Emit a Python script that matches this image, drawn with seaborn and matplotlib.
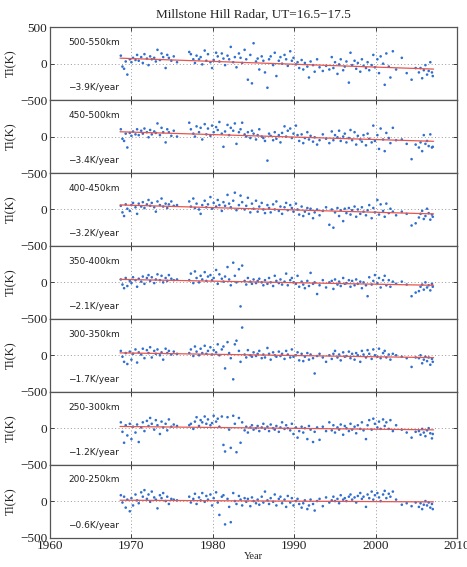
import numpy as np
import pandas as pd
import matplotlib.pyplot as plt
import seaborn as sns

# observation times (decimal year), shared by all altitude bins
years = [
    1968.7, 1968.9, 1969.1, 1969.3, 1969.5, 1969.8, 1970.0, 1970.2, 1970.5, 1970.7,
    1970.9, 1971.2, 1971.4, 1971.6, 1971.9, 1972.1, 1972.3, 1972.5, 1972.8, 1973.0,
    1973.2, 1973.5, 1973.7, 1973.9, 1974.2, 1974.4, 1974.6, 1974.9, 1975.2, 1975.6,
    1977.1, 1977.3, 1977.6, 1977.8, 1978.0, 1978.3, 1978.5, 1978.7, 1979.0, 1979.2,
    1979.4, 1979.7, 1979.9, 1980.1, 1980.4, 1980.6, 1980.8, 1981.1, 1981.3, 1981.5,
    1981.8, 1982.0, 1982.2, 1982.5, 1982.7, 1982.9, 1983.2, 1983.4, 1983.6, 1983.9,
    1984.1, 1984.3, 1984.6, 1984.8, 1985.0, 1985.3, 1985.5, 1985.7, 1986.0, 1986.2,
    1986.4, 1986.7, 1986.9, 1987.1, 1987.4, 1987.6, 1987.8, 1988.1, 1988.3, 1988.5,
    1988.8, 1989.0, 1989.2, 1989.5, 1989.7, 1989.9, 1990.2, 1990.4, 1990.6, 1990.9,
    1991.1, 1991.3, 1991.6, 1991.8, 1992.0, 1992.3, 1992.5, 1992.8, 1993.1, 1993.5,
    1993.9, 1994.3, 1994.6, 1994.8, 1995.0, 1995.3, 1995.5, 1995.7, 1996.0, 1996.2,
    1996.4, 1996.7, 1996.9, 1997.1, 1997.4, 1997.6, 1997.8, 1998.1, 1998.3, 1998.5,
    1998.8, 1999.0, 1999.2, 1999.5, 1999.7, 1999.9, 2000.2, 2000.4, 2000.6, 2000.9,
    2001.1, 2001.3, 2001.6, 2001.8, 2002.1, 2002.5,
    2003.2, 2003.8, 2004.4, 2004.9,
    2005.3, 2005.5, 2005.7, 2005.9, 2006.1, 2006.3, 2006.5, 2006.7, 2006.9, 2007.0,
]

# ion temperature anomalies (K) per altitude bin
ti_500_550 = [
    110, -40, -70, 30, -150, 60, 20, 80, 50, 120, 40, 90, 10, 130, 70, -20, 100, 60, 80, 30,
    190, 50, 140, 90, -60, 120, 80, 40, 100, 20,
    160, 130, 60, 10, 110, 60, 90, -10, 180, 40,
    130, 20, -60, 50, 150, 100, 30, 140, 70, -20,
    110, 60, 230, 20, 90, -50, 140, 80, 10, 190,
    60, -220, 120, -270, 280, 30, 70, -80, 100, 40,
    -120, -330, 60, 100, -20, 150, -170, 40, 90, 0,
    120, 60, -30, 170, 40, 80, -10, 20, -60, 50,
    -80, 10, -40, -190, 30, -20, -110, 60, -50, -100,
    -30, -80, 90, -60, 20, -140, -10, 60, -90, -40,
    30, -260, 150, -20, 40, -70, 10, -110, 60, -30,
    -60, 20, -90, -20, 120, -50, 60, -130, 100, 0,
    -290, 140, -40, -190, 170, -80,
    80, -130, -220, -60,
    -120, -60, -200, -90, -20, -150, -100, 20, -120, -170,
]
ti_450_500 = [
    100, -30, -60, 40, -150, 50, 10, 70, 30, 100, 20, 80, 40, 110, 60, -10, 90, 30, 70, 50,
    180, 20, 120, 60, -80, 100, 60, 10, 80, 0,
    190, 100, 40, 0, 140, 60, 120, -40, 170, 30,
    110, 10, 150, 60, 130, 90, 200, 40, -140, 70,
    160, 20, 120, 80, 180, -100, 60, 100, 190, 30,
    0, 60, -20, 80, 40, -40, 20, 100, 0, -20,
    -60, -330, 40, 10, -50, 60, -30, 20, -80, 50,
    140, 0, 80, 110, -20, 40, 150, 20, -60, 30,
    -90, -20, 60, -40, 10, -70, -10, -110, -50, 30,
    -30, -90, 70, -50, 20, -10, 80, -60, 0, 40,
    -80, -20, 90, -50, 60, -110, 10, -40, -70, 20,
    -120, 40, -30, -80, 150, -60, 20, -170, 110, -40,
    -200, 50, -20, -90, 120, -50,
    -40, -100, -310, -110,
    -150, -80, -200, 20, -100, -60, -130, 30, -150, -140,
]
ti_400_450 = [
    50, -40, -90, 70, 10, -20, 60, 90, 30, -60, 80, 40, 100, 20, 70, 130, 50, 90, 30, -30,
    110, 60, 150, 40, 80, 20, 70, 110, 50, 60,
    110, 40, 150, 20, 80, 0, -60, 60, 120, 30,
    70, 170, 10, 90, 40, 130, 60, -20, 100, 50,
    200, 80, 30, 120, 230, -10, 60, 190, 100, 0,
    50, 160, -40, 80, 10, 120, -30, 40, 90, 0,
    -50, 60, 20, -40, 70, 0, 110, -20, 40, -60,
    30, 90, -10, 60, 20, -30, 80, 0, -70, 40,
    -90, -30, 20, -60, 10, -120, -40, 0, -80, -20,
    30, -210, 0, -250, -40, 20, -90, -10, -160, 10,
    -50, 20, -70, -10, 40, -100, 0, -60, 30, -30,
    -80, -10, 60, -120, 20, -40, 130, -70, 70, -20,
    -100, 80, -50, 10, -30, -80,
    -30, -60, -220, -190,
    -110, -60, -20, -130, -90, 10, -50, -140, -70, -100,
]
ti_350_400 = [
    40, -30, -80, 60, -50, 20, -10, 70, 30, -60, 50, 10, 80, -20, 60, 100, 20, 70, -10, 40,
    110, 30, 90, 0, 60, 20, 100, 50, 30, 40,
    30, 120, -10, 150, 60, 0, 90, 40, 140, 20,
    80, 100, 30, 60, 170, -20, 110, 50, 10, 80,
    210, 40, -40, 270, 90, 0, 180, -330, 230, 20,
    -30, 60, 10, -20, 40, -10, 20, 50, 0, -40,
    30, -20, 60, 0, -50, 90, 20, -10, 40, -30,
    10, 120, -40, 30, 60, 0, -20, 90, -60, 10,
    -30, -80, 20, -50, 130, -20, 0, -160, -40, 30,
    -70, 0, 20, -90, 40, -30, 10, -50, 60, -20,
    -10, 30, -60, 20, -40, 40, -20, 10, -80, 0,
    -40, -190, 70, -30, 20, 100, -10, 60, -70, 30,
    90, -40, 30, -60, 10, -20,
    10, -30, -190, -140,
    -120, -60, -30, -100, 0, -70, -40, -110, -20, -60,
]
ti_300_350 = [
    60, -20, -90, 30, -120, 50, -60, 20, 80, -100, 40, 10, 90, -40, 70, 30, 110, -30, 60, 20,
    80, 0, 40, -60, 90, 30, 60, 10, 50, 20,
    30, 80, -10, 120, 50, 0, 90, 30, 130, 20,
    60, 110, 10, 70, 40, 150, 0, 80, 120, -180,
    180, 30, -40, -330, 150, 200, 60, -90, 380, 10,
    -30, 70, 0, -20, 40, -10, 20, 60, -40, 10,
    -30, 100, 20, -60, 40, 0, -20, 50, -10, 20,
    -50, 60, 10, -30, 80, -20, 0, 40, -70, 20,
    -80, -20, 30, -60, 10, -40, -250, -10, 20, -30,
    -90, 0, -50, 20, 60, -30, 10, -70, 40, -20,
    -10, 50, -40, 20, -60, 30, 0, -90, 60, 10,
    -30, 70, 20, -50, 80, 0, -20, 90, -40, 30,
    60, -30, 10, -60, 20, 0,
    -20, -40, -160, -30,
    -40, 0, -110, -60, -20, -80, -30, -130, -50, -90,
]
ti_250_300 = [
    80, -50, -200, 40, -100, 60, -150, 20, -60, 50, -190, 10, 80, -40, 100, 30, 140, 60, -20, 110,
    40, -80, 90, 10, 60, -30, 120, 20, 50, 30,
    40, 60, -10, 90, 150, 30, 110, 80, 160, 60,
    120, 40, 70, 170, 90, 130, 20, 160, -230, -320,
    150, -20, -270, 170, 60, -330, 140, -200, 80, -30,
    20, -60, 10, 40, -20, 0, 30, -40, 10, 60,
    -10, 20, -40, 50, 0, -20, 30, -50, 10, 80,
    -10, 40, 0, -30, 60, -80, 10, -130, -40, 20,
    -60, 0, -150, 30, -20, -190, -50, 10, -160, 20,
    -40, 80, -30, 40, -60, 10, -20, 50, -90, 30,
    0, -40, 60, -20, 20, -70, 40, -10, 80, -30,
    -150, 40, 110, -20, 130, 60, 10, 90, -10, 120,
    30, 80, -10, 110, -40, 40,
    -20, -60, -130, -50,
    -40, -90, -10, -60, -110, -30, 0, -70, -140, -80,
]
ti_200_250 = [
    80, -20, 60, -90, 20, -140, 40, -60, 90, 10, -30, 120, 60, 150, 30, 90, -10, 130, 50, 20,
    -100, 80, 40, 110, 0, 60, -40, 30, 20, 10,
    60, -20, 30, 100, -40, 50, 10, 110, -10, 70,
    20, 90, -60, 40, 120, -20, -190, 60, 80, -320,
    30, -80, -290, 110, 0, -40, 70, 20, -60, 40,
    -10, 30, -70, 50, 0, -30, 20, -50, 60, -20,
    130, 10, -40, 40, -10, 90, -60, 30, 60, -30,
    20, -80, 70, -20, 40, -60, 0, 30, -40, -90,
    -30, 10, -110, -60, 20, -40, -130, 0, 30, -70,
    50, -20, 10, 60, 0, 30, -30, 80, 20, 40,
    0, 60, 90, 20, 50, -20, 70, 110, 30, 60,
    -80, 90, 40, 130, 20, 80, 110, 50, 0, 90,
    140, 40, 100, 60, 130, 20,
    -50, -30, -70, -20,
    -80, -30, -110, -50, 0, -60, -20, -90, -40, -110,
]

bins = ["500-550km", "450-500km", "400-450km", "350-400km",
        "300-350km", "250-300km", "200-250km"]
slopes = [-3.9, -3.4, -3.2, -2.1, -1.7, -1.2, -0.6]
series = [ti_500_550, ti_450_500, ti_400_450, ti_350_400,
          ti_300_350, ti_250_300, ti_200_250]

sns.set_theme(style="ticks")
plt.rcParams['font.family'] = ['Liberation Serif', 'DejaVu Serif']
plt.rcParams['axes.unicode_minus'] = True

fig, axes = plt.subplots(7, 1, figsize=(4.67, 5.67), dpi=100, sharex=True)
fig.subplots_adjust(left=0.107, right=0.979, top=0.952, bottom=0.052, hspace=0)

for i, (ax, name, slope, vals) in enumerate(zip(axes, bins, slopes, series)):
    assert len(vals) == len(years), name
    df = pd.DataFrame({"Year": years, "Ti": vals})
    sns.scatterplot(data=df, x="Year", y="Ti", ax=ax, s=3.5, color="#2f6fcf",
                    edgecolor="none", linewidth=0, zorder=3)
    # linear trend from the quoted slope, centred on 1988
    fit = pd.DataFrame({"Year": [1968.6, 2007.1]})
    fit["Ti"] = slope * (fit["Year"] - 1988)
    sns.lineplot(data=fit, x="Year", y="Ti", ax=ax, color="#e8554e", lw=0.9, zorder=4)

    ax.set_xlim(1960, 2010)
    ax.set_ylim(-500, 500)
    ax.set_yticks([-500, 0, 500])
    ax.set_yticklabels(["\u2212500", "0", "500" if i == 0 else ""])
    ax.set_xticks([1960, 1970, 1980, 1990, 2000, 2010])
    ax.grid(True, linestyle=(0, (1, 2.5)), color="#999999", lw=0.7)
    ax.tick_params(direction="in", top=True, right=True, length=3, width=0.6,
                   labelsize=9.5, pad=2, colors="#222222")
    for sp in ax.spines.values():
        sp.set_color("#555555")
        sp.set_linewidth(0.9)
    ax.set_ylabel("Ti(K)", fontsize=9)
    ax.yaxis.set_label_coords(-0.08, 0.5)
    ax.set_xlabel("")
    ax.text(0.045, 0.79, name, transform=ax.transAxes, fontsize=6.5,
            family=["DejaVu Sans"], va="center", color="#222222")
    ax.text(0.045, 0.17, f"\u2212{abs(slope)}K/year", transform=ax.transAxes,
            fontsize=6.5, family=["DejaVu Sans"], va="center", color="#222222")

axes[0].set_title("Millstone Hill Radar, UT=16.5\u221217.5", fontsize=9.5, pad=7)
axes[-1].set_xticklabels(["1960", "1970", "1980", "1990", "2000", "2010"])
axes[-1].set_xlabel("Year", fontsize=7.5, labelpad=0)

fig.savefig("out.png", dpi=100)
